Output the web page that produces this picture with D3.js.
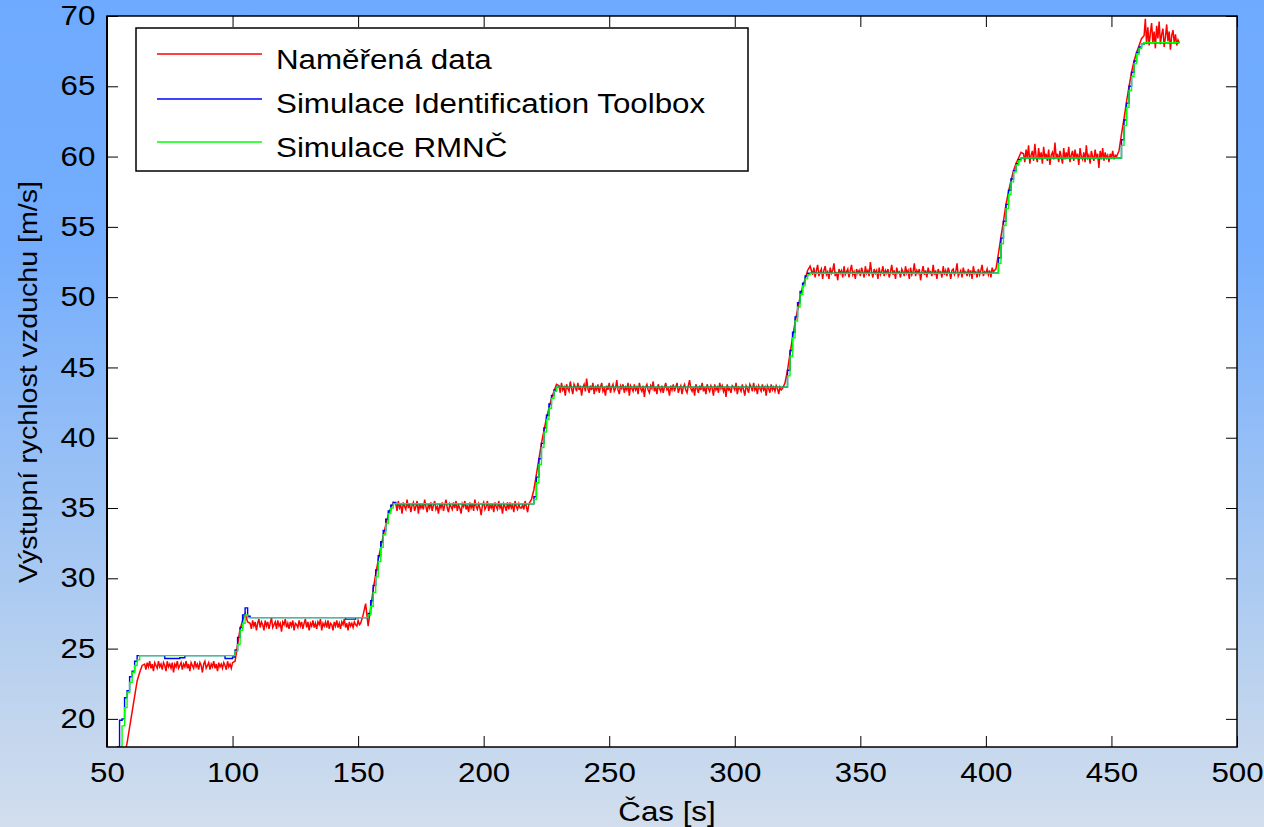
<!DOCTYPE html>
<html>
<head>
<meta charset="utf-8">
<script src="https://cdn.jsdelivr.net/npm/d3@7"></script>
<style>
  body { margin: 0; }
  svg text { font-family: "Liberation Sans", Arial, sans-serif; fill: #000; }
</style>
</head>
<body>
<svg id="chart" width="1264" height="827"></svg>
<script>
// measured data; each segment = [start time, sample step (s), values]
var measuredSegments = [
    [55, 1, [16.0, 16.8, 17.4, 18.3, 19.4, 20.5, 21.6, 22.7, 23.3, 23.8]],
    [65, 0.5, [23.9, 23.5, 24.0, 23.7, 24.1, 23.6, 23.9, 23.4, 24.0, 23.8,
               23.6, 24.1, 23.7, 23.9, 23.5, 24.0, 23.8, 23.4, 24.1, 23.7,
               23.9, 23.6, 24.0, 23.3, 23.9, 23.7, 24.1, 23.6, 23.8, 24.0,
               23.5, 23.9, 23.7, 24.1, 23.6, 23.9, 23.4, 24.0, 23.8, 23.6,
               24.1, 23.7, 23.9, 23.5, 24.0, 23.8, 23.3, 23.9, 24.1, 23.6,
               23.8, 24.0, 23.5, 23.9, 23.7, 24.1, 23.6, 23.9, 23.4, 24.0,
               23.7, 23.9, 23.6, 24.0, 23.8, 23.5, 24.1, 23.7, 23.9, 23.6,
               24.0]],
    [101, 1, [24.1, 25.3, 26.4, 27.0, 27.5, 26.9]],
    [107, 0.5, [26.8, 26.4, 27.0, 26.6, 26.9, 26.3, 26.8, 27.1, 26.5, 26.9,
                26.7, 26.3, 27.0, 26.6, 26.9, 26.4, 26.8, 27.2, 26.5, 26.7,
                26.9, 26.4, 27.0, 26.6, 26.8, 26.2, 26.9, 26.7, 27.1, 26.5,
                26.8, 26.4, 26.9, 26.6, 27.0, 26.3, 26.8, 26.7, 26.5, 27.0,
                26.6, 26.9, 26.4, 26.8, 27.1, 26.5, 26.9, 26.3, 26.8, 26.6,
                27.0, 26.5, 26.8, 26.4, 26.9, 26.7, 27.1, 26.3, 26.8, 26.6,
                26.9, 26.5, 27.0, 26.4, 26.8, 26.7, 26.3, 26.9, 26.6, 27.0,
                26.5, 26.8, 26.4, 26.9, 26.7, 27.1, 26.5, 26.8, 26.3, 26.9,
                26.6, 26.8, 26.5, 26.9, 26.7, 26.6, 27.0, 26.7, 26.8]],
    [152, 1, [27.4, 28.2, 26.6, 27.9, 29.2, 30.3, 31.3, 32.2, 33.0, 33.8, 34.5, 35.0, 35.4]],
    [165, 0.5, [35.3, 34.8, 35.5, 35.0, 35.2, 34.6, 35.4, 35.1, 34.9, 35.6,
                35.0, 35.3, 34.7, 35.2, 35.4, 34.8, 35.1, 35.5, 34.6, 35.3,
                35.0, 35.2, 34.9, 35.6, 35.1, 34.7, 35.3, 35.0, 35.4, 34.8,
                35.2, 35.5, 34.9, 35.1, 34.6, 35.3, 35.0, 35.4, 34.8, 35.2,
                35.6, 35.0, 34.7, 35.3, 35.1, 34.9, 35.4, 35.0, 35.5, 34.8,
                35.2, 35.0, 34.6, 35.3, 35.1, 35.5, 34.9, 35.2, 34.7, 35.4,
                35.0, 35.3, 34.8, 35.6, 35.1, 34.9, 35.3, 35.0, 34.5, 35.2,
                35.4, 34.9, 35.1, 35.5, 34.8, 35.2, 35.0, 35.3, 34.7, 35.4,
                35.1, 34.9, 35.5, 35.0, 35.2, 34.6, 35.3, 35.1, 34.8, 35.4,
                34.9, 35.4, 35.0, 35.2, 34.7, 35.5, 35.1, 34.9, 35.3, 35.0,
                35.0, 35.2, 34.9, 35.5, 35.1, 34.7, 35.3]],
    [219, 1, [35.6, 36.3, 37.4, 38.5, 39.6, 40.5, 41.4, 42.1, 42.8, 43.3, 43.8]],
    [230, 0.5, [43.7, 43.2, 43.9, 43.4, 43.6, 43.0, 43.8, 43.5, 43.3, 44.0,
                43.5, 43.1, 43.8, 43.6, 43.3, 43.9, 43.4, 43.7, 43.0, 43.6,
                43.8, 43.3, 44.2, 43.5, 43.2, 43.7, 43.4, 43.9, 43.1, 43.6,
                43.4, 43.8, 43.2, 43.6, 43.9, 43.3, 43.5, 43.0, 43.7, 43.4,
                43.9, 43.2, 43.6, 43.8, 43.3, 43.5, 44.1, 43.4, 43.1, 43.7,
                43.5, 43.8, 43.2, 43.6, 43.4, 43.9, 43.0, 43.7, 43.5, 43.3,
                43.8, 43.4, 43.6, 43.1, 43.9, 43.5, 43.3, 43.7, 42.9, 43.6,
                43.8, 43.4, 43.2, 43.7, 43.5, 44.0, 43.3, 43.6, 43.1, 43.8,
                43.5, 43.3, 43.7, 43.2, 43.6, 43.9, 43.4, 43.5, 43.0, 43.7,
                43.4, 43.8, 43.3, 43.6, 43.9, 43.2, 43.5, 43.7, 43.1, 43.6,
                43.8, 43.4, 43.2, 43.7, 44.1, 43.5, 43.3, 43.6, 43.0, 43.8,
                43.5, 43.2, 43.7, 43.4, 43.9, 43.3, 43.6, 43.1, 43.8, 43.5,
                43.3, 43.7, 43.5, 43.0, 43.8, 43.4, 43.6, 43.2, 43.9, 43.5,
                43.7, 43.3, 43.6, 42.9, 43.8, 43.4, 43.5, 43.2, 43.7, 43.6,
                43.4, 43.9, 43.1, 43.6, 43.5, 43.3, 43.8, 43.4, 43.0, 43.7,
                43.5, 43.2, 43.8, 43.6, 43.3, 43.9, 43.4, 43.6, 43.1, 43.7,
                43.5, 43.3, 43.8, 43.4, 43.6, 43.0, 43.7, 43.5, 43.2, 43.8,
                43.4, 43.6, 43.3, 43.7, 43.5, 43.1, 43.6, 43.4, 43.5]],
    [320, 1, [43.9, 44.8, 46.0, 47.1, 48.2, 49.1, 50.0, 50.7, 51.3, 51.9, 52.2]],
    [331, 0.5, [51.6, 52.1, 51.4, 51.9, 52.3, 51.5, 51.8, 52.0, 51.3, 51.9,
                52.2, 51.6, 51.8, 51.3, 52.1, 51.7, 51.9, 52.4, 51.5, 51.8,
                51.2, 52.0, 51.7, 51.9, 51.4, 52.2, 51.6, 51.8, 52.0, 51.4,
                51.9, 52.3, 51.6, 51.8, 51.3, 52.0, 51.7, 51.9, 51.5, 52.1,
                51.8, 51.4, 52.2, 51.7, 51.9, 51.5, 52.5, 51.8, 51.4, 52.0,
                51.7, 51.9, 51.3, 52.1, 51.6, 51.8, 52.2, 51.5, 51.9, 51.7,
                52.0, 51.4, 51.8, 52.3, 51.6, 51.9, 51.3, 52.1, 51.7, 51.8,
                51.4, 52.0, 51.8, 51.5, 52.2, 51.7, 51.9, 51.3, 52.1, 51.6,
                51.8, 52.4, 51.5, 51.9, 51.7, 52.0, 51.2, 51.8, 52.2, 51.6,
                51.9, 51.4, 52.1, 51.7, 51.8, 51.5, 52.3, 51.6, 51.9, 51.3,
                52.0, 51.7, 51.8, 51.4, 52.2, 51.6, 51.9, 51.5, 52.1, 51.8,
                51.3, 51.9, 52.0, 51.6, 51.8, 52.4, 51.5, 51.7, 51.9, 51.4,
                52.1, 51.7, 51.8, 51.5, 52.0, 51.6, 51.9, 51.3, 52.2, 51.7,
                51.8, 51.4, 52.0, 51.6, 51.9, 52.3, 51.5, 51.8, 51.7, 52.0,
                51.6, 51.9, 51.4, 52.1, 51.8]],
    [404, 1, [52.0, 53.1, 54.3, 55.4, 56.6, 57.5, 58.3, 59.0, 59.5, 59.9, 60.3]],
    [415, 0.5, [60.2, 59.6, 60.5, 59.9, 60.8, 59.5, 60.1, 60.4, 59.7, 60.9,
                60.0, 59.6, 60.6, 59.8, 60.3, 59.5, 60.7, 59.9, 60.2, 59.7,
                60.5, 59.4, 60.1, 60.3, 59.8, 61.0, 59.9, 60.2, 59.6, 60.4,
                60.0, 59.5, 60.6, 59.8, 60.3, 59.9, 60.7, 59.6, 60.1, 60.4,
                59.7, 60.5, 59.9, 60.2, 59.4, 60.6, 60.0, 59.8, 60.3, 59.6,
                60.8, 59.9, 60.1, 59.5, 60.4, 60.0, 59.7, 60.5, 59.9, 60.2,
                59.2, 60.4, 59.8, 60.6, 59.7, 60.3, 59.9, 60.1, 59.6, 60.2,
                59.9, 60.4, 59.8, 60.1, 60.0]],
    [453, 1, [60.4, 61.6, 62.7, 63.9, 65.0, 66.0, 66.8, 67.4, 67.9, 68.4]],
    [463, 0.5, [68.6, 69.8, 68.0, 69.2, 67.9, 68.8, 69.5, 68.1, 68.9, 67.7,
                69.3, 68.4, 69.6, 68.0, 68.7, 69.1, 67.8, 68.5, 69.4, 68.2,
                68.9, 67.6, 68.6, 69.0, 68.1, 68.7, 67.9, 68.3, 68.1]]
];

// Identification Toolbox simulation [t, v]
var simToolbox = [
    [54, 18.0], [55, 19.9], [56, 20.0], [57, 21.5], [58, 22.0], [59, 23.0], [60, 23.4], [61, 24.1], [62, 24.5],
    [73, 24.3], [79, 24.35], [81, 24.5], [97, 24.3], [100, 24.4],
    [101, 24.9], [102, 25.8], [103, 26.5], [104, 27.4], [105, 27.9], [106, 27.3], [107, 27.2],
    [145, 27.1], [149, 27.2],
    [154, 27.5], [155, 28.4], [156, 29.5], [157, 30.6], [158, 31.6], [159, 32.6], [160, 33.4], [161, 34.2],
    [162, 34.8], [163, 35.2], [164, 35.4], [165, 35.3],
    [220, 35.8], [221, 37.2], [222, 38.5], [223, 39.6], [224, 40.7], [225, 41.6], [226, 42.4], [227, 43.0],
    [228, 43.4], [229, 43.6],
    [321, 44.8], [322, 46.2], [323, 47.5], [324, 48.6], [325, 49.6], [326, 50.4], [327, 51.0], [328, 51.5], [329, 51.7],
    [405, 52.8], [406, 54.2], [407, 55.4], [408, 56.6], [409, 57.6], [410, 58.4], [411, 59.0], [412, 59.5],
    [413, 59.8], [414, 59.9],
    [454, 61.2], [455, 62.6], [456, 63.8], [457, 65.0], [458, 66.0], [459, 66.8], [460, 67.4], [461, 67.8],
    [462, 68.0], [463, 68.1], [477, 68.1]
];

// RMNC simulation [t, v]
var simRmnc = [
    [55, 18.0], [56, 19.5], [57, 20.8], [58, 21.9], [59, 22.6], [60, 23.3], [61, 23.8], [62, 24.2], [63, 24.5],
    [101, 24.8], [102, 25.3], [103, 26.3], [104, 26.8], [105, 27.4], [106, 27.2],
    [154, 27.4], [155, 28.0], [156, 29.0], [157, 30.1], [158, 31.2], [159, 32.2], [160, 33.1], [161, 33.9],
    [162, 34.6], [163, 35.0], [164, 35.3],
    [220, 35.6], [221, 36.8], [222, 38.1], [223, 39.3], [224, 40.4], [225, 41.3], [226, 42.1], [227, 42.8],
    [228, 43.3], [229, 43.6],
    [321, 44.4], [322, 45.8], [323, 47.1], [324, 48.3], [325, 49.3], [326, 50.2], [327, 50.8], [328, 51.3],
    [329, 51.6], [330, 51.7],
    [405, 52.4], [406, 53.8], [407, 55.1], [408, 56.3], [409, 57.3], [410, 58.2], [411, 58.9], [412, 59.4],
    [413, 59.7], [414, 59.9],
    [454, 60.8], [455, 62.2], [456, 63.5], [457, 64.7], [458, 65.7], [459, 66.6], [460, 67.3], [461, 67.7],
    [462, 68.0], [463, 68.1], [477, 68.1]
];

var xTicks = [50, 100, 150, 200, 250, 300, 350, 400, 450, 500];
var yTicks = [20, 25, 30, 35, 40, 45, 50, 55, 60, 65, 70];
var legendLabels = ["Naměřená data", "Simulace Identification Toolbox", "Simulace RMNČ"];
var seriesColors = ["#ff0000", "#0000ff", "#00ff00"];

const plot = { left: 107, right: 1237, top: 16, bottom: 747 };
const stretch = 1.16;   // the original text is a bit wider than Arial

var svg = d3.select('#chart');

// background gradient
var defs = svg.append('defs');
var grad = defs.append('linearGradient')
    .attr('id', 'bg')
    .attr('x1', 0).attr('y1', 0).attr('x2', 0).attr('y2', 1);
[[0, '#6eaaff'], [0.3, '#74adfd'], [0.65, '#a3c6f3'], [0.85, '#bfd4ee'], [1, '#d2deed']].forEach(function(s) {
    grad.append('stop').attr('offset', s[0]).attr('stop-color', s[1]);
});
svg.append('rect').attr('width', 1264).attr('height', 827).attr('fill', 'url(#bg)');

defs.append('clipPath').attr('id', 'plot-clip')
    .append('rect')
    .attr('x', plot.left).attr('y', plot.top)
    .attr('width', plot.right - plot.left).attr('height', plot.bottom - plot.top);

var x = d3.scaleLinear().domain([50, 500]).range([plot.left, plot.right]);
var y = d3.scaleLinear().domain([18, 70]).range([plot.bottom, plot.top]);

svg.append('rect')
    .attr('x', plot.left).attr('y', plot.top)
    .attr('width', plot.right - plot.left).attr('height', plot.bottom - plot.top)
    .attr('fill', '#fff');

// measured points
var measured = [];
measuredSegments.forEach(function(seg) {
    seg[2].forEach(function(v, i) { measured.push([seg[0] + i * seg[1], v]); });
});

var lines = svg.append('g').attr('clip-path', 'url(#plot-clip)');

var lineLinear = d3.line().x(d => x(d[0])).y(d => y(d[1]));
var lineStep = d3.line().x(d => x(d[0])).y(d => y(d[1])).curve(d3.curveStepAfter);

lines.append('path').attr('d', lineLinear(measured))
    .attr('fill', 'none').attr('stroke', seriesColors[0]).attr('stroke-width', 1.5);
lines.append('path').attr('d', lineStep(simToolbox))
    .attr('fill', 'none').attr('stroke', seriesColors[1]).attr('stroke-width', 1.4);
lines.append('path').attr('d', lineStep(simRmnc))
    .attr('fill', 'none').attr('stroke', seriesColors[2]).attr('stroke-width', 1.4);

// axes with inner ticks on all four sides
var axBottom = svg.append('g')
    .attr('transform', 'translate(0,' + plot.bottom + ')')
    .call(d3.axisBottom(x).tickValues(xTicks).tickSize(-11).tickSizeOuter(0).tickPadding(16));
var axTop = svg.append('g')
    .attr('transform', 'translate(0,' + plot.top + ')')
    .call(d3.axisTop(x).tickValues(xTicks).tickSize(-11).tickSizeOuter(0).tickFormat(''));
var axLeft = svg.append('g')
    .attr('transform', 'translate(' + plot.left + ',0)')
    .call(d3.axisLeft(y).tickValues(yTicks).tickSize(-11).tickSizeOuter(0).tickPadding(10));
var axRight = svg.append('g')
    .attr('transform', 'translate(' + plot.right + ',0)')
    .call(d3.axisRight(y).tickValues(yTicks).tickSize(-11).tickSizeOuter(0).tickFormat(''));

[axBottom, axTop, axLeft, axRight].forEach(function(ax) {
    ax.select('.domain').remove();
    ax.selectAll('line').attr('stroke', '#000').attr('stroke-width', 1);
    ax.selectAll('text')
        .attr('font-size', 27)
        .attr('font-family', '"Liberation Sans", Arial, sans-serif')
        .attr('fill', '#000')
        .attr('transform', 'scale(' + stretch + ',1)');
});

// frame
svg.append('rect')
    .attr('x', plot.left).attr('y', plot.top)
    .attr('width', plot.right - plot.left).attr('height', plot.bottom - plot.top)
    .attr('fill', 'none').attr('stroke', '#000').attr('stroke-width', 1.5);
svg.append('line')
    .attr('x1', plot.left).attr('x2', plot.left)
    .attr('y1', plot.top).attr('y2', plot.bottom)
    .attr('stroke', '#000').attr('stroke-width', 2);

// axis titles
svg.append('text')
    .attr('transform', 'translate(667,821) scale(' + stretch + ',1)')
    .attr('text-anchor', 'middle')
    .attr('font-size', 27)
    .text('Čas [s]');
svg.append('text')
    .attr('transform', 'translate(37,382) rotate(-90) scale(1.1,1)')
    .attr('text-anchor', 'middle')
    .attr('font-size', 26)
    .text('Výstupní rychlost vzduchu [m/s]');

// legend
var legend = svg.append('g');
legend.append('rect')
    .attr('x', 136).attr('y', 28)
    .attr('width', 612).attr('height', 143)
    .attr('fill', '#fff').attr('stroke', '#000').attr('stroke-width', 1.5);

var legendLineY = [54, 99, 142];
var legendTextY = [69, 113, 157];
legendLabels.forEach(function(label, i) {
    legend.append('line')
        .attr('x1', 157).attr('x2', 262)
        .attr('y1', legendLineY[i]).attr('y2', legendLineY[i])
        .attr('stroke', seriesColors[i]).attr('stroke-width', 1.3);
    legend.append('text')
        .attr('transform', 'translate(276,' + legendTextY[i] + ') scale(' + stretch + ',1)')
        .attr('font-size', 27)
        .text(label);
});
</script>
</body>
</html>
